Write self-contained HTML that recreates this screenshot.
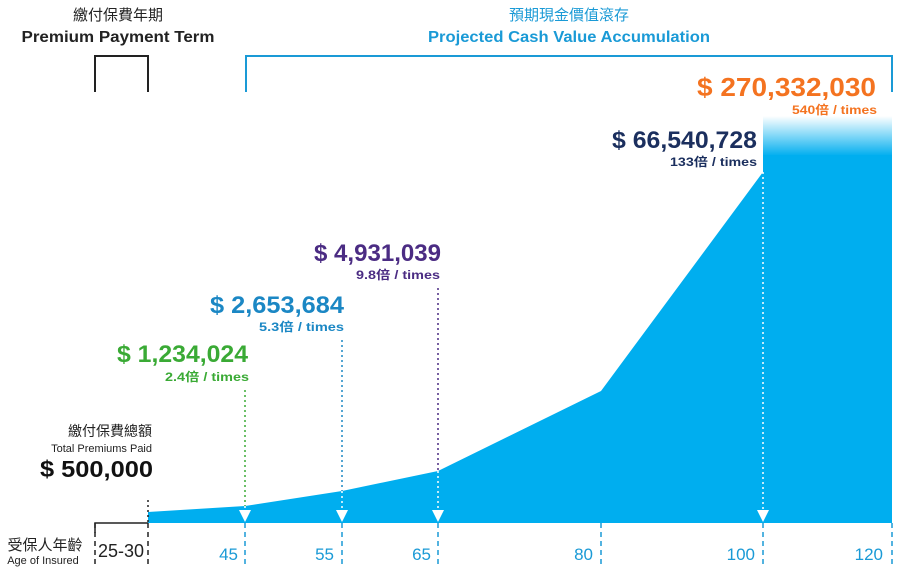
<!DOCTYPE html>
<html><head><meta charset="utf-8"><style>
body{margin:0;background:#fff;width:900px;height:577px;overflow:hidden}
svg text{font-family:"Liberation Sans","Noto Sans CJK TC",sans-serif}
</style></head><body>
<svg width="900" height="577" viewBox="0 0 900 577" xmlns="http://www.w3.org/2000/svg">
<defs><linearGradient id="g" x1="0" y1="0" x2="0" y2="1">
<stop offset="0" stop-color="#00aeef" stop-opacity="0"/><stop offset="1" stop-color="#00aeef"/></linearGradient></defs>
<text x="118" y="20" font-size="15" text-anchor="middle" fill="#222">繳付保費年期</text>
<text x="118" y="42" font-size="16" font-weight="bold" text-anchor="middle" fill="#222" textLength="193" lengthAdjust="spacingAndGlyphs">Premium Payment Term</text>
<text x="569" y="20" font-size="15" text-anchor="middle" fill="#1a9ad6">預期現金價值滾存</text>
<text x="569" y="42" font-size="16" font-weight="bold" text-anchor="middle" fill="#1a9ad6" textLength="282" lengthAdjust="spacingAndGlyphs">Projected Cash Value Accumulation</text>
<path d="M95 92V56H148V92" fill="none" stroke="#222" stroke-width="2"/>
<path d="M246 92V56H892V92" fill="none" stroke="#1a9ad6" stroke-width="2"/>
<polygon points="148,512 245,506 342,491 438,471 601,391 763,172 763,523 148,523" fill="#00aeef"/>
<rect x="763" y="155" width="129" height="368" fill="#00aeef"/>
<rect x="763" y="116" width="129" height="40" fill="url(#g)"/>
<g stroke-dasharray="2,3" stroke-width="1.5">
<line x1="148" y1="500" x2="148" y2="523" stroke="#222"/>
<line x1="245" y1="390" x2="245" y2="506" stroke="#3aaa35"/>
<line x1="342" y1="340" x2="342" y2="491" stroke="#1b87c4"/>
<line x1="438" y1="288" x2="438" y2="471" stroke="#4b2c83"/>
<line x1="245" y1="506" x2="245" y2="512" stroke="#fff"/>
<line x1="342" y1="491" x2="342" y2="512" stroke="#fff"/>
<line x1="438" y1="471" x2="438" y2="512" stroke="#fff"/>
<line x1="763" y1="172" x2="763" y2="512" stroke="#fff"/>
</g>
<g fill="#fff"><polygon points="239,510 251,510 245,522"/><polygon points="336,510 348,510 342,522"/><polygon points="432,510 444,510 438,522"/><polygon points="757,510 769,510 763,522"/></g>
<path d="M95 533V523H148" fill="none" stroke="#222" stroke-width="1.5"/>
<g stroke-dasharray="5,4" stroke-width="1.5" stroke="#1a9ad6">
<line x1="245" y1="523" x2="245" y2="565"/><line x1="342" y1="523" x2="342" y2="565"/><line x1="438" y1="523" x2="438" y2="565"/><line x1="601" y1="523" x2="601" y2="565"/><line x1="763" y1="523" x2="763" y2="565"/><line x1="892" y1="523" x2="892" y2="565"/>
</g>
<g stroke-dasharray="5,4" stroke-width="1.5" stroke="#222"><line x1="95" y1="523" x2="95" y2="565"/><line x1="148" y1="523" x2="148" y2="565"/></g>
<text x="45" y="550" font-size="15" text-anchor="middle" fill="#222">受保人年齡</text>
<text x="43" y="564" font-size="11" text-anchor="middle" fill="#222">Age of Insured</text>
<text x="121" y="557" font-size="18" text-anchor="middle" fill="#222">25-30</text>
<g font-size="17" fill="#1a9ad6" text-anchor="end"><text x="238" y="560">45</text><text x="334" y="560">55</text><text x="431" y="560">65</text><text x="593" y="560">80</text><text x="755" y="560">100</text><text x="883" y="560">120</text></g>
<text x="152" y="436" font-size="14" text-anchor="end" fill="#222">繳付保費總額</text>
<text x="152" y="452" font-size="11" text-anchor="end" fill="#222">Total Premiums Paid</text>
<text x="40" y="477" font-size="23" font-weight="bold" fill="#111" textLength="113" lengthAdjust="spacingAndGlyphs">$ 500,000</text>
<g font-weight="bold">
<text x="117" y="362" font-size="24" fill="#3aaa35" textLength="131" lengthAdjust="spacingAndGlyphs">$ 1,234,024</text><text x="165" y="381" font-size="12" fill="#3aaa35" textLength="84" lengthAdjust="spacingAndGlyphs">2.4倍 / times</text>
<text x="210" y="313" font-size="24" fill="#1b87c4" textLength="134" lengthAdjust="spacingAndGlyphs">$ 2,653,684</text><text x="259" y="331" font-size="12" fill="#1b87c4" textLength="85" lengthAdjust="spacingAndGlyphs">5.3倍 / times</text>
<text x="314" y="261" font-size="24" fill="#4b2c83" textLength="127" lengthAdjust="spacingAndGlyphs">$ 4,931,039</text><text x="356" y="279" font-size="12" fill="#4b2c83" textLength="84" lengthAdjust="spacingAndGlyphs">9.8倍 / times</text>
<text x="612" y="148" font-size="24" fill="#1b2f5e" textLength="145" lengthAdjust="spacingAndGlyphs">$ 66,540,728</text><text x="670" y="166" font-size="12" fill="#1b2f5e" textLength="87" lengthAdjust="spacingAndGlyphs">133倍 / times</text>
<text x="697" y="96" font-size="26" fill="#f47320" textLength="179" lengthAdjust="spacingAndGlyphs">$ 270,332,030</text><text x="792" y="114" font-size="12" fill="#f47320" textLength="85" lengthAdjust="spacingAndGlyphs">540倍 / times</text>
</g>
</svg>
</body></html>
